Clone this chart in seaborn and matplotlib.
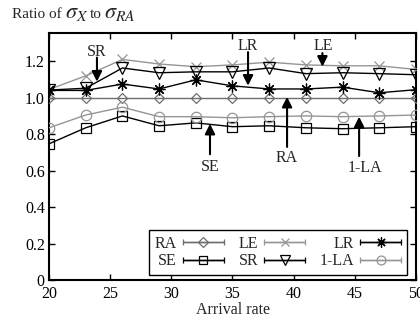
import numpy as np
import pandas as pd
import seaborn as sns
import matplotlib
matplotlib.use("Agg")
import matplotlib.pyplot as plt
from matplotlib.container import ErrorbarContainer
from matplotlib.legend_handler import HandlerErrorbar

# ---- data ----
arrival = [20, 23, 26, 29, 32, 35, 38, 41, 44, 47, 50]
ra = [1.0, 1.0, 1.0, 1.0, 1.0, 1.0, 1.0, 1.0, 1.0, 1.0, 1.0]
le = [1.045, 1.12, 1.21, 1.185, 1.17, 1.18, 1.195, 1.18, 1.175, 1.175, 1.155]
lr = [1.04, 1.04, 1.075, 1.048, 1.098, 1.065, 1.048, 1.048, 1.058, 1.027, 1.044]
se = [0.747, 0.835, 0.9, 0.846, 0.862, 0.841, 0.846, 0.835, 0.83, 0.835, 0.841]
sr = [1.042, 1.052, 1.163, 1.137, 1.142, 1.142, 1.163, 1.132, 1.137, 1.132, 1.126]
la1 = [0.835, 0.905, 0.948, 0.896, 0.896, 0.89, 0.896, 0.9, 0.896, 0.9, 0.905]
series_names = ["RA", "LE", "LR", "SE", "SR", "1-LA"]
yticks = [0, 0.2, 0.4, 0.6, 0.8, 1.0, 1.2]
xticks = [20, 25, 30, 35, 40, 45, 50]

values = {"RA": ra, "LE": le, "LR": lr, "SE": se, "SR": sr, "1-LA": la1}
df = pd.concat(
    [pd.DataFrame({"rate": arrival, "ratio": values[n], "series": n}) for n in series_names],
    ignore_index=True,
)

# ---- style ----
sns.set_style("ticks")
plt.rcParams["font.family"] = ["Liberation Serif", "DejaVu Serif"]
plt.rcParams["mathtext.fontset"] = "stix"
plt.rcParams["xtick.direction"] = "in"
plt.rcParams["ytick.direction"] = "in"

styles = {
    "RA": dict(color="#6e6e6e", marker="D", ms=5.5),
    "LE": dict(color="#959595", marker="x", ms=7.5),
    "LR": dict(color="#000000", marker=(8, 2, 0), ms=8.5),
    "SE": dict(color="#000000", marker="s", ms=7),
    "SR": dict(color="#000000", marker="v", ms=8.5),
    "1-LA": dict(color="#959595", marker="o", ms=7.5),
}

W, H = 420, 324
fig = plt.figure(figsize=(W / 100, H / 100), dpi=100)
ax = fig.add_axes([49 / W, 1 - 280 / H, 367 / W, 247 / H])

for n in series_names:
    st = styles[n]
    sns.lineplot(
        data=df[df["series"] == n], x="rate", y="ratio", ax=ax, legend=False,
        color=st["color"], marker=st["marker"], markersize=st["ms"],
        markerfacecolor="none", markeredgecolor=st["color"], markeredgewidth=0.9,
        linewidth=1.0, zorder=3,
    )

ax.set_xlim(20, 50)
ax.set_ylim(0, 1.355)
ax.set_xticks(xticks)
ax.set_yticks(yticks)
ax.set_yticklabels(["0" if v == 0 else f"{v:.1f}" for v in yticks])
ax.tick_params(axis="both", which="both", top=True, right=True, length=4,
               width=1.0, labelsize=11.5, colors="black", pad=3)
ax.tick_params(axis="x", pad=4)
for s in ax.spines.values():
    s.set_linewidth(1.5)
    s.set_color("black")
ax.set_xlabel("Arrival rate", fontsize=11.5, labelpad=0)
ax.set_ylabel("")

# ---- title-like label in the top-left corner (mixed sizes) ----
base_y = 1 - 18 / H
fig.text(12 / W, base_y, "Ratio of", fontsize=11, ha="left", va="baseline")
fig.text(65 / W, base_y, r"$\sigma_X$", fontsize=16, ha="left", va="baseline")
fig.text(90 / W, base_y, "to", fontsize=11, ha="left", va="baseline")
fig.text(104 / W, base_y, r"$\sigma_{RA}$", fontsize=16, ha="left", va="baseline")

# ---- annotations (text + arrows) ----
arrow_kw = dict(arrowstyle="-|>,head_length=0.6,head_width=0.3", color="black",
                lw=1.5, shrinkA=0, shrinkB=0)
labels = [
    ("SR", 23.92, 1.253, 23.92, 1.22, 1.088),
    ("LR", 36.27, 1.286, 36.27, 1.25, 1.066),
    ("LE", 42.40, 1.286, 42.35, 1.245, 1.170),
    ("RA", 39.46, 0.672, 39.46, 0.73, 1.005),
    ("SE", 33.16, 0.621, 33.16, 0.69, 0.857),
    ("1-LA", 45.84, 0.615, 45.35, 0.68, 0.896),
]
for txt, tx, ty, axx, tail, tip in labels:
    ax.text(tx, ty, txt, ha="center", va="center", fontsize=11.5)
    ax.annotate("", xy=(axx, tip), xytext=(axx, tail), arrowprops=arrow_kw)

# ---- legend with errorbar-style keys ----
handles = []
for n in series_names:
    st = styles[n]
    h = ax.errorbar([np.nan], [np.nan], xerr=[1.0], color=st["color"],
                    marker=st["marker"], markersize=st["ms"], markerfacecolor="none",
                    markeredgecolor=st["color"], markeredgewidth=0.9,
                    linewidth=1.0, elinewidth=1.0, capsize=2.5, label=n)
    handles.append(h)
ax.set_xlim(20, 50)
ax.set_ylim(0, 1.355)

order = ["RA", "SE", "LE", "SR", "LR", "1-LA"]
hmap = dict(zip(series_names, handles))
hl = 2.6
leg = ax.legend(
    [hmap[n] for n in order], order, ncol=3, loc="upper right",
    bbox_to_anchor=((407 - 49) / 367, (280 - 230) / 247), borderaxespad=0,
    markerfirst=False, numpoints=1, handlelength=hl, handletextpad=0.35,
    columnspacing=0.9, labelspacing=0.1, borderpad=0.35, fontsize=11.5,
    markerscale=0.85,
    frameon=True, fancybox=False, edgecolor="black", framealpha=1,
    handler_map={ErrorbarContainer: HandlerErrorbar(xerr_size=hl / 2)},
)
leg.get_frame().set_linewidth(1.0)

fig.savefig("out.png", dpi=100)
